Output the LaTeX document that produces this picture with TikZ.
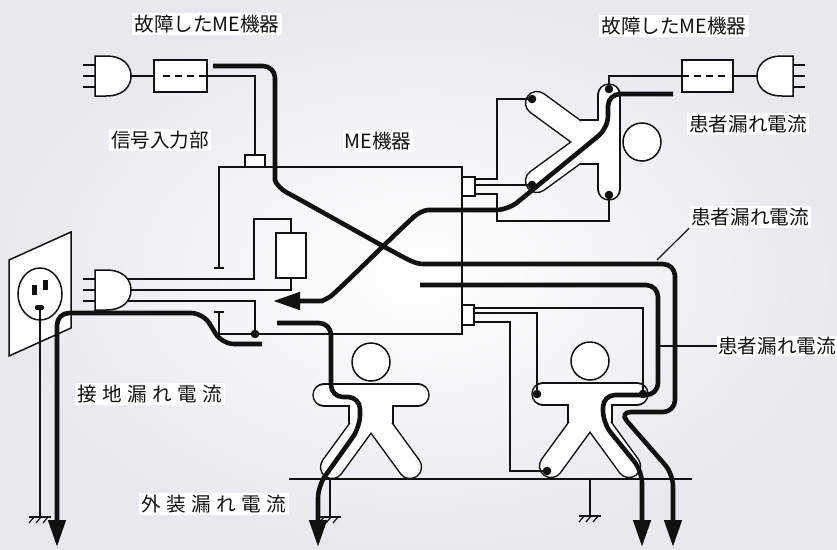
\documentclass[tikz,border=0pt]{standalone}
\usepackage{fontspec}
\newfontfamily\jpfont{Noto Sans CJK JP}
\usetikzlibrary{arrows.meta}

\definecolor{ink}{RGB}{17,17,17}
\definecolor{paperout}{RGB}{233,232,237}

\tikzset{
  wire/.style={draw=ink, line width=1.5pt},
  boxpart/.style={draw=ink, line width=1.5pt, fill=white},
  flow/.style={draw=ink, line width=4.6pt, rounded corners=12pt},
  flowtip/.style={-{Triangle[length=27pt,width=17pt]}},
  lbl/.style={font=\jpfont\fontsize{19.6}{24}\selectfont, text=ink, fill=white, inner sep=2pt},
  % body drawn as a dark underlay and a white overlay, so the limbs merge into one outline
  person/.pic={
    \begin{scope}[line cap=round]
      \draw[ink, line width=23.5pt] (-47,-42) -- (47,-42);
      \draw[ink, line width=24.5pt] (-6.8,-14.1) -- (-39,30);
      \draw[ink, line width=24.5pt] (6.8,-14.1) -- (39,30);
      \fill[ink] (-22.75,-42) -- (22.75,-42) -- (22.75,-12.25) -- (-22.75,-12.25) -- cycle;
      \draw[white, line width=20.5pt] (-47,-42) -- (47,-42);
      \draw[white, line width=21.5pt] (-6.8,-14.1) -- (-39,30);
      \draw[white, line width=21.5pt] (6.8,-14.1) -- (39,30);
      \fill[white] (-21.25,-42) -- (21.25,-42) -- (21.25,-13.75) -- (-21.25,-13.75) -- cycle;
    \end{scope}
    \draw[ink, line width=1.5pt, fill=white] (0,-75) circle[radius=19pt];
    \coordinate (-lh) at (-53,-42);
    \coordinate (-rh) at (53,-42);
    \coordinate (-lf) at (-43,35);
    \coordinate (-rf) at (43,35);
  },
  % mains plug: flat back at the origin, rounded front to the right
  plug/.pic={
    \draw[ink, line width=1.5pt] (-12,-11) -- (0,-11) (-12,0) -- (0,0) (-12,11) -- (0,11);
    \draw[ink, line width=1.5pt, fill=white] (0,-20) -- (11,-20)
      .. controls (29,-20) and (36,-10) .. (36,0)
      .. controls (36,10) and (29,20) .. (11,20) -- (0,20) -- cycle;
    \coordinate (-tip) at (36,0);
  },
  earth/.pic={
    \draw[ink, line width=1.4pt] (-11,0) -- (11,0);
    \foreach \u in {-6,1,8} \draw[ink, line width=1.2pt] (\u,0) -- (\u-5,6);
  },
}

\begin{document}
\begin{tikzpicture}[x=1pt,y=-1pt]
\useasboundingbox (0,0) rectangle (837,549);
\shade[inner color=white, outer color=paperout] (0,0) rectangle (837,549);

% wall socket
\draw[boxpart] (9,260) -- (71,232) -- (71,328) -- (9,356) -- cycle;
\draw[ink, line width=1.5pt, fill=white] (40,294) ellipse[x radius=22pt, y radius=26pt];
\fill[ink] (32,285) rectangle (37,295);
\fill[ink] (42.5,280) rectangle (47.5,290);
\fill[ink, rounded corners=1.5pt] (35,305) rectangle (44,310);
\draw[wire] (40,309) -- (40,517);
\pic at (40,517) {earth};

% floor and earthing
\draw[wire] (289,479) -- (692,479);
\draw[wire] (330,479) -- (330,517);
\pic at (330,517) {earth};
\draw[wire] (590,479) -- (590,516);
\pic at (590,516) {earth};

% patients
\pic (P1) at (371,437) {person};
\pic (P2) at (590,436) {person};
\pic[rotate=-90] (P3) at (567,142) {person};

% ME equipment case (left side open where the mains lead enters)
\draw[wire] (219,268) -- (219,167) -- (462,167) -- (462,334) -- (219,334) -- (219,312);
\draw[wire] (214,268) -- (224,268);
\draw[wire] (214,312) -- (224,312);
\draw[boxpart] (245,155) rectangle (265,167);
\draw[boxpart] (462,177) rectangle (475,196);
\draw[boxpart] (462,305) rectangle (474,325);
\draw[boxpart] (276,233) rectangle (306,278);

% mains lead
\draw[wire] (120,279) -- (254,279) -- (254,219) -- (291,219) -- (291,233);
\draw[wire] (120,290) -- (291,290) -- (291,278);
\draw[wire] (120,301) -- (255,301) -- (255,334);

% faulty device on the signal input
\draw[wire] (120,76) -- (154,76);
\draw[boxpart] (154,60) rectangle (207,92);
\draw[wire, dash pattern=on 7pt off 5pt] (163,76) -- (207,76);
\draw[wire] (207,76) -- (255,76) -- (255,155);

% faulty device on the applied part
\draw[wire] (770,76) -- (733,76);
\draw[boxpart] (682,60) rectangle (733,92);
\draw[wire, dash pattern=on 7pt off 5pt] (682,76) -- (726,76);
\draw[wire] (682,76) -| (P3-lh);

% patient leads
\draw[wire] (475,179) -- (497,179) |- (P3-lf);
\draw[wire] (475,185) -- (P3-rf);
\draw[wire] (475,194) -- (497,194) -- (497,221) -| (P3-rh);
\draw[wire] (474,308) -| (P2-rh);
\draw[wire] (474,313) -| (P2-lh);
\draw[wire] (474,322) -- (510,322) |- (P2-lf);

% plugs
\pic at (95,76) {plug};
\pic at (95,290) {plug};
\pic[xscale=-1] at (793,76) {plug};

% electrodes and junction
\foreach \d in {P2-lh,P2-rh,P2-lf,P3-lh,P3-rh,P3-lf,P3-rf}
  \fill[ink] (\d) circle[radius=4.3pt];
\fill[ink] (255,334) circle[radius=4.3pt];

% leakage current paths
\draw[flow, flowtip] (213,66) -- (275,66) -- (275,168)
  .. controls (275,183) and (282,190) .. (297,198) -- (390,250)
  .. controls (405,258) and (415,264) .. (435,264) -- (675,264)
  -- (675,412) -- (619,412) -- (673,474) -- (673,547);
\draw[flow, flowtip] (673,94) -- (608,94) -- (608,128) -- (508,210) -- (440,210)
  .. controls (425,210) and (418,213) .. (405,225) -- (340,288)
  .. controls (330,297) and (322,301) .. (310,301) -- (273,301);
\draw[flow, flowtip] (262,344) -- (222,344) -- (203,313) -- (57,313) -- (57,547);
\draw[flow, flowtip] (277,323) -- (331,323) -- (331,397) -- (360,397) -- (360,427)
  -- (318,486) -- (318,547);
\draw[flow, flowtip] (420,285) -- (658,285) -- (658,395) -- (603,395) -- (603,423)
  -- (642,471) -- (642,547);

% labels
\node[lbl] (t1) at (207,24) {故障したME機器};
\node[lbl] (t2) at (674,26) {故障したME機器};
\node[lbl] (t3) at (160,140) {信号入力部};
\node[lbl] (t4) at (378,141) {ME機器};
\node[lbl] (t5) at (748,124) {患者漏れ電流};
\node[lbl] (t6) at (750,217) {患者漏れ電流};
\node[lbl, anchor=east, inner sep=1pt] (t7) at (837,346) {患者漏れ電流};
\node[lbl] (t8) at (150,394) {接\hspace{5.5pt}地\hspace{5.5pt}漏\hspace{5.5pt}れ\hspace{5.5pt}電\hspace{5.5pt}流};
\node[lbl] (t9) at (214,504) {外\hspace{5.5pt}装\hspace{5.5pt}漏\hspace{5.5pt}れ\hspace{5.5pt}電\hspace{5.5pt}流};
\draw[ink, line width=1.2pt] (657,260) -- (t6.south west);
\draw[ink, line width=1.2pt] (658,346) -- (t7.west);
\end{tikzpicture}
\end{document}
